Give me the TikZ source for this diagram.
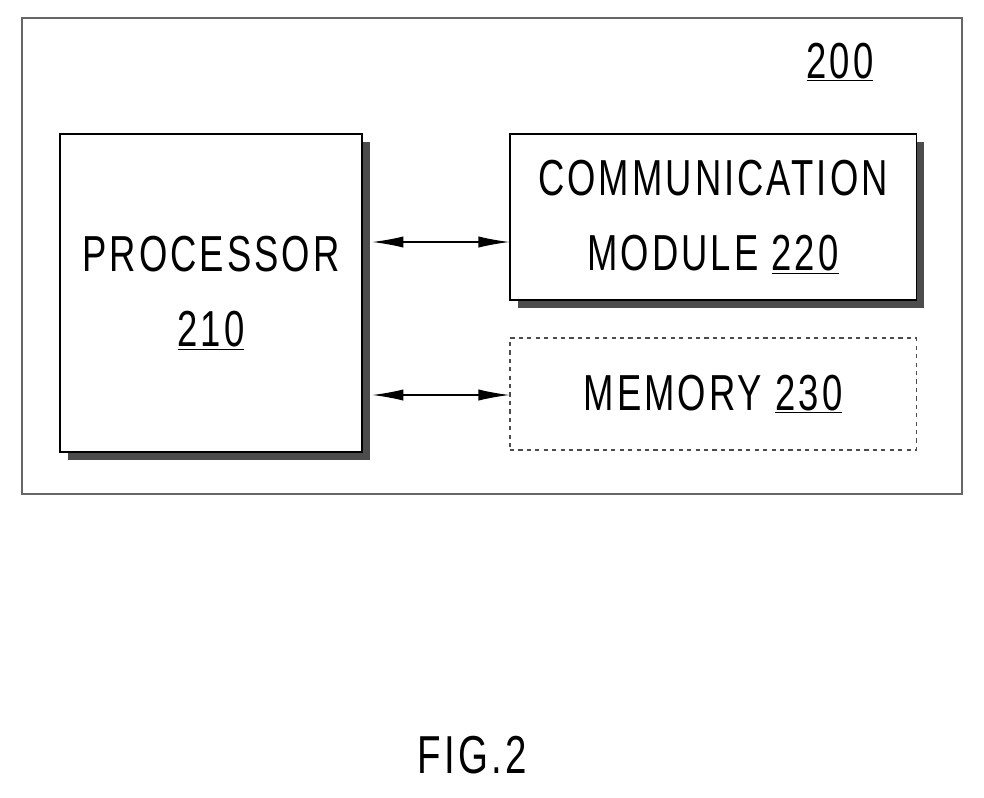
\documentclass[tikz,border=0pt]{standalone}
\usepackage{fontspec}
\setmainfont{Liberation Sans}[FakeStretch=0.72, LetterSpace=6]
\usetikzlibrary{arrows.meta}
\begin{document}
\begin{tikzpicture}[x=0.025cm, y=-0.025cm,
    block/.style={draw, thick, fill=white, align=center, font=\fontsize{36}{54}\selectfont},
    shade/.style={fill=black!70},
    link/.style={{Latex[length=22pt,width=8pt]}-{Latex[length=22pt,width=8pt]}, thick}]
    \useasboundingbox (0,0) rectangle (984,797);
    % Outer box
    \draw[black!60, line width=1.5pt] (22,18) rectangle (962,494);
    \node[font=\fontsize{36}{44}\selectfont] (lbl) at (840,62) {\underline{200}};

    % Shadows
    \fill[shade] (68,142) rectangle (370,460);
    \fill[shade] (518,142) rectangle (924,308);

    % Blocks
    \node[block, minimum width=7.55cm, minimum height=7.95cm] (proc) at (211,293) {PROCESSOR\\\underline{210}};
    \node[block, minimum width=10.15cm, minimum height=4.15cm] (comm) at (713,217) {COMMUNICATION\\MODULE \underline{220}};
    \node[block, dashed, draw=black!70, minimum width=10.15cm, minimum height=2.8cm] (mem) at (713,394) {MEMORY \underline{230}};

    % Edges
    \coordinate (a1) at (436,242);
    \coordinate (a2) at (436,395);
    \draw[link, shorten <=7pt] (proc.east |- a1) -- (comm.west |- a1);
    \draw[link, shorten <=7pt] (proc.east |- a2) -- (mem.west |- a2);

    \node[font=\fontsize{38}{44}\selectfont] (fig) at (472,755) {FIG.2};
\end{tikzpicture}
\end{document}
